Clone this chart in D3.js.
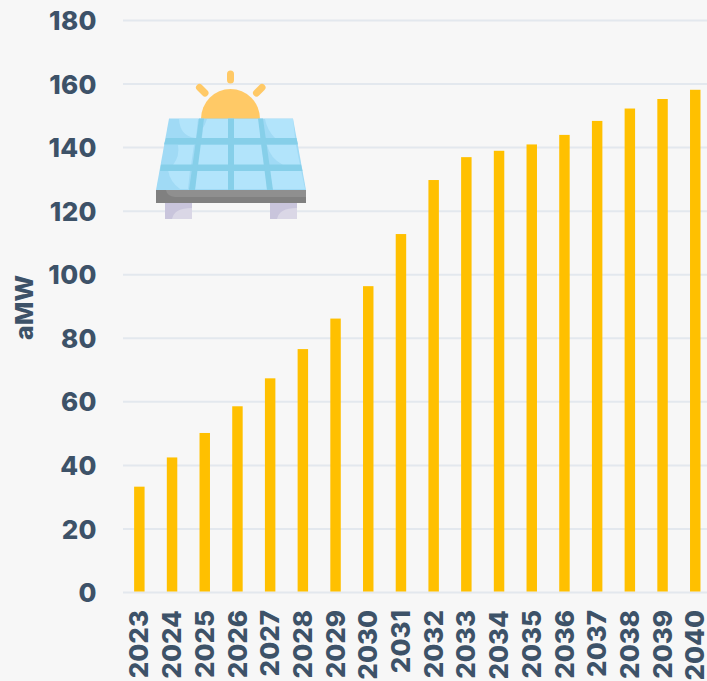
<!DOCTYPE html>
<html>
<head>
<meta charset="utf-8">
<script src="https://cdn.jsdelivr.net/npm/d3@7"></script>
<style>
  html, body { margin: 0; padding: 0; background: #f7f7f7; overflow: hidden; }
  text { font-family: Inter, sans-serif; font-weight: 800; fill: #3d5268; }
</style>
</head>
<body>
<svg id="graphic" width="707" height="681"></svg>
<script>
const years = [2023, 2024, 2025, 2026, 2027, 2028, 2029, 2030, 2031, 2032, 2033, 2034, 2035, 2036, 2037, 2038, 2039, 2040];
const amw = [33.3, 42.5, 50.2, 58.6, 67.4, 76.6, 86.2, 96.4, 112.8, 129.8, 137, 139, 141, 144, 148.4, 152.3, 155.3, 158.2];
const yTicks = [0, 20, 40, 60, 80, 100, 120, 140, 160, 180];

const svg = d3.select("#graphic");

const x = d3.scaleBand().domain(years).range([123, 711.6]).paddingInner(0.68).paddingOuter(0.34);
const y = d3.scaleLinear().domain([0, 180]).range([592.5, 20.5]);

// gridlines and value labels
const yAxis = d3.axisLeft(y).tickValues(yTicks).tickSize(0).tickPadding(0);
const yG = svg.append("g").attr("transform", "translate(97,0)").call(yAxis);
yG.select(".domain").remove();
yG.selectAll("text").attr("font-size", 26).attr("letter-spacing", 0.4).attr("dy", "0.35em");

svg.append("g")
  .selectAll("line")
  .data(yTicks)
  .enter()
  .append("line")
  .attr("x1", 123)
  .attr("x2", 707)
  .attr("y1", (d) => y(d))
  .attr("y2", (d) => y(d))
  .attr("stroke", "#e3e8ee")
  .attr("stroke-width", 2);

// bars
svg.append("g")
  .selectAll("rect")
  .data(years)
  .enter()
  .append("rect")
  .attr("x", (d) => x(d))
  .attr("y", (d, i) => y(amw[i]))
  .attr("width", x.bandwidth())
  .attr("height", (d, i) => y(0) - y(amw[i]) - 1)
  .attr("fill", "#ffc000");

// year labels, rotated
const xAxis = d3.axisBottom(x).tickSize(0).tickPadding(0);
const xG = svg.append("g").call(xAxis);
xG.select(".domain").remove();
xG.selectAll("g.tick").attr("transform", (d) => "translate(" + (x(d) + x.bandwidth() / 2) + ",610)");
xG.selectAll("text")
  .attr("font-size", 26)
  .attr("text-anchor", "end")
  .attr("y", 0)
  .attr("dy", "0.35em")
  .attr("transform", "rotate(-90)");

svg.append("text")
  .attr("transform", "translate(24,307.5) rotate(-90)")
  .attr("text-anchor", "middle")
  .attr("dy", "0.35em")
  .attr("font-size", 25)
  .text("aMW");

// solar panel icon
const icon = svg.append("g");

// sun and rays
icon.append("path").attr("d", "M201 119 A29.5 30 0 0 1 260 119 Z").attr("fill", "#ffc966");
["M230.5 74 V80", "M199.5 87.5 L205 93", "M262 87.5 L256.5 93"].forEach((d) => {
  icon.append("path").attr("d", d).attr("stroke", "#ffc966").attr("stroke-width", 7).attr("stroke-linecap", "round");
});

// legs
icon.append("rect").attr("x", 165).attr("y", 203).attr("width", 27).attr("height", 16).attr("fill", "#c9c5dc");
icon.append("path").attr("d", "M172 219 Q174 208 192 208 V219 Z").attr("fill", "#dad7e6");
icon.append("rect").attr("x", 270).attr("y", 203).attr("width", 27).attr("height", 16).attr("fill", "#c9c5dc");
icon.append("path").attr("d", "M277 219 Q279 208 297 208 V219 Z").attr("fill", "#dad7e6");

// panel face
icon.append("path").attr("d", "M169 118.5 H293 L306 190 H156 Z").attr("fill", "#a0daf5");
const cells = [
  "M179 119 H198 L196 138 H195 Q180 136 179 119 Z",
  "M203 128 L202 138 H228 V119 H207 Q205 125 203 128 Z",
  "M234 138 V119 H260 V138 Z",
  "M265 119 H293 L295 138 H275 Q267 130 265 119 Z",
  "M178 145 H194 L191 165 H173 Q180 156 178 145 Z",
  "M200 145 H228 V165 H197 Z",
  "M234 145 H261 L264 165 H234 Z",
  "M267 145 H296 L300 165 H283 Q270 158 267 145 Z",
  "M168 170 H190 L188 189 H180 Q170 182 168 170 Z",
  "M197 170 H228 V189 H195 Z",
  "M234 170 H265 L267 189 H234 Z",
  "M270 170 H301 L305 189 H272 Z",
];
icon.selectAll("path.cell")
  .data(cells)
  .enter()
  .append("path")
  .attr("class", "cell")
  .attr("d", (d) => d)
  .attr("fill", "#b2e4fb");

// panel frame bars
const frame = [
  "M166 138 H296.5 L298 144.5 H164 Z",
  "M161 164.5 H301 L302.5 171 H160 Z",
  "M199 118.5 H204 L195 190 H189 Z",
  "M228 118.5 H234 V190 H228 Z",
  "M258 118.5 H263 L273 190 H267 Z",
];
icon.selectAll("path.frame")
  .data(frame)
  .enter()
  .append("path")
  .attr("class", "frame")
  .attr("d", (d) => d)
  .attr("fill", "#86cfe9");

// base
icon.append("rect").attr("x", 156).attr("y", 190).attr("width", 150).attr("height", 13).attr("fill", "#808080");
icon.append("path").attr("d", "M166 190 H306 V197 H175 Q167 196 166 190 Z").attr("fill", "#8f8f8f");
</script>
</body>
</html>
